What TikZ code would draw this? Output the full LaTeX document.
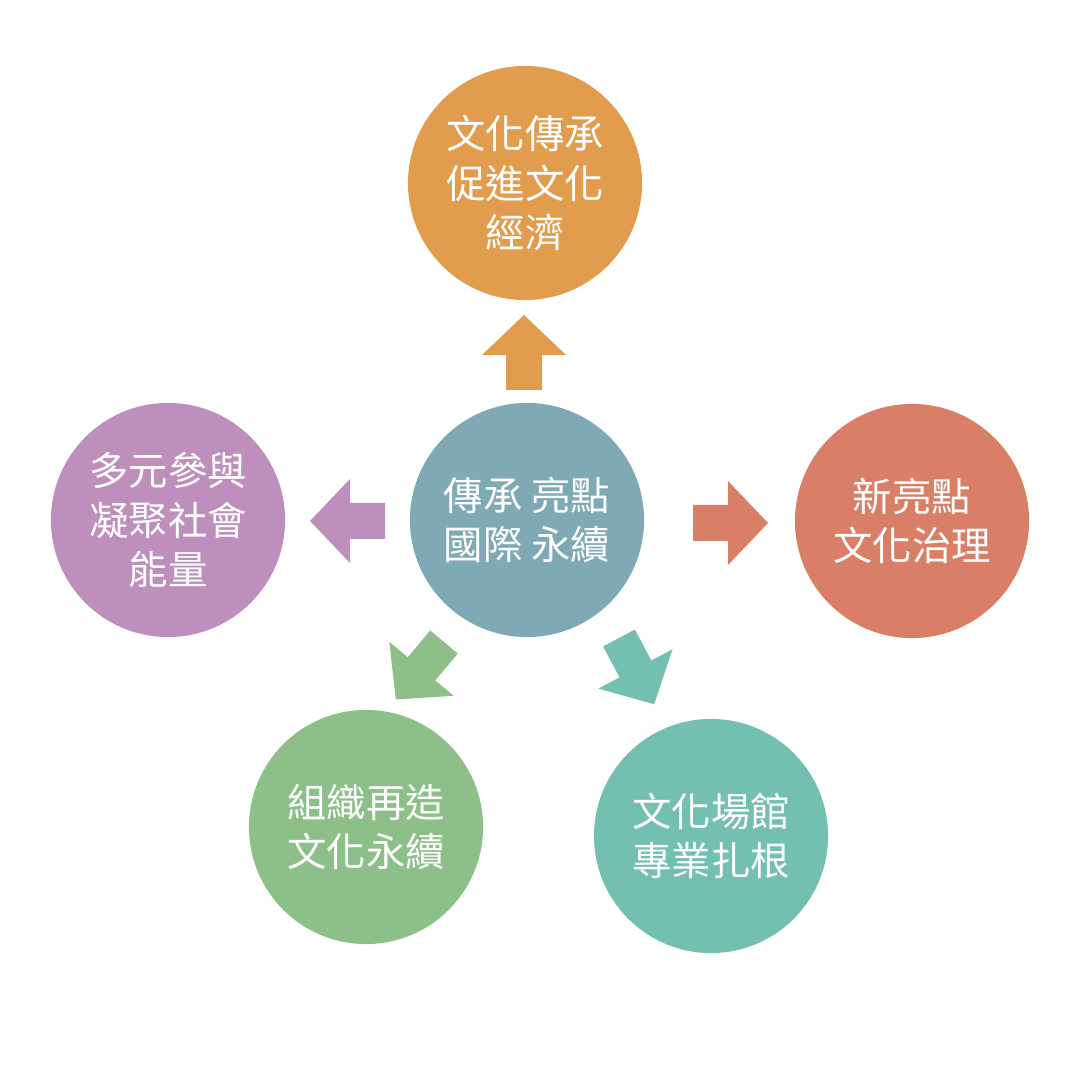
\documentclass[tikz,border=0pt]{standalone}
\usepackage{fontspec}
\newfontfamily\cjk{Noto Sans CJK TC}
\definecolor{cor}{HTML}{E19D4D}
\definecolor{cce}{HTML}{7FA9B5}
\definecolor{cri}{HTML}{DA7F67}
\definecolor{cle}{HTML}{BE8FBC}
\definecolor{cbl}{HTML}{8DC089}
\definecolor{cbr}{HTML}{73BFB0}
\begin{document}
\begin{tikzpicture}[x=0.01cm,y=-0.01cm,
  bub/.style={circle,minimum size=2.34cm,inner sep=0pt,text=white,align=center,font=\cjk\fontsize{11.2}{14}\selectfont},
  blk/.pic={\fill[#1] (0,-18)--(35,-18)--(35,-42)--(75,0)--(35,42)--(35,18)--(0,18)--cycle;}]
\useasboundingbox (0,0) rectangle (1080,1068);
\fill[white] (0,0) rectangle (1080,1068);
\node[bub,fill=cor] (top) at (525,183) {文化傳承\\促進文化\\經濟};
\node[bub,fill=cce] (cen) at (527,520) {傳承 亮點\\國際 永續};
\node[bub,fill=cri] (rig) at (912,521) {新亮點\\文化治理};
\node[bub,fill=cle] (lef) at (168,520) {多元參與\\凝聚社會\\能量};
\node[bub,fill=cbl] (bl) at (366,827) {組織再造\\文化永續};
\node[bub,fill=cbr] (br) at (711,836) {文化場館\\專業扎根};
\pic[rotate=90] at (524,390) {blk=cor};
\pic[rotate=180] at (385,521) {blk=cle};
\pic at (693,523) {blk=cri};
\pic[rotate=-130] at (444,642) {blk=cbl};
\pic[rotate=-62] at (619,638) {blk=cbr};
\end{tikzpicture}
\end{document}
